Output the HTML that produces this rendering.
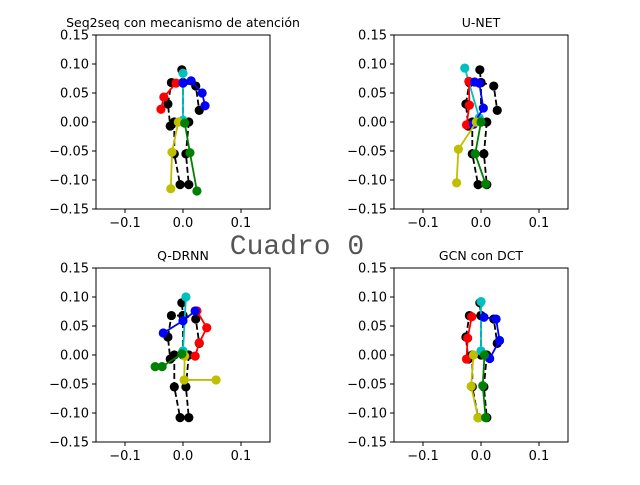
<!DOCTYPE html>
<html><head><meta charset="utf-8"><style>
body{margin:0;background:#fff;}
svg text{font-family:"DejaVu Sans","Liberation Sans",sans-serif;}
</style></head><body>
<svg id="fig" width="640" height="480" xmlns="http://www.w3.org/2000/svg">
<rect width="640" height="480" fill="#fff"/>
<text x="297" y="254" text-anchor="middle" style="font-family:'Liberation Mono',monospace;font-size:28px" fill="#555">Cuadro 0</text>
</svg>
<script>
const ticks=[-0.1,0.0,0.1];
const yticks=[0.15,0.10,0.05,0.00,-0.05,-0.10,-0.15];
const titles=["Seq2seq con mecanismo de atención","U-NET","Q-DRNN","GCN con DCT"];
// ground-truth skeleton chains (x,y)
const gtSpine=[[0,0],[0,0.068],[-0.002,0.09]];
const gtArmL=[[0,0.068],[-0.02,0.068],[-0.026,0.031],[-0.022,-0.007]];
const gtArmR=[[0,0.068],[0.022,0.062],[0.028,0.02]];
const gtLegL=[[-0.015,0],[-0.015,-0.055],[-0.005,-0.108]];
const gtLegR=[[0.01,0],[0.005,-0.055],[0.01,-0.108]];
// predictions per model
const p1Cyan=[[0,0.084],[0,0.003]];
const p1Red=[[-0.012,0.067],[-0.033,0.043],[-0.038,0.022]];
const p1Blue=[[0,0.067],[0.014,0.071],[0.033,0.05],[0.038,0.028]];
const p1Yellow=[[-0.008,0],[-0.019,-0.052],[-0.021,-0.115]];
const p1Green=[[0.003,-0.002],[0.012,-0.053],[0.024,-0.119]];
const p2Cyan=[[-0.028,0.093],[-0.003,0.007]];
const p2Red=[[-0.021,0.07],[-0.02,0.029],[-0.025,-0.005]];
const p2Blue=[[-0.011,0.069],[-0.003,0.067],[0.004,0.024],[-0.013,-0.004]];
const p2Yellow=[[-0.008,0],[-0.039,-0.047],[-0.042,-0.105]];
const p2Green=[[0,0],[-0.01,-0.055],[0.008,-0.107]];
const p3Cyan=[[0.005,0.1],[0,0.007]];
const p3Red=[[0.024,0.076],[0.041,0.047],[0.028,0.021],[0.021,-0.002]];
const p3Blue=[[0.021,0.076],[0,0.059],[-0.034,0.038]];
const p3Yellow=[[0.003,-0.002],[0.002,-0.043],[0.057,-0.043]];
const p3Green=[[-0.002,0.002],[-0.036,-0.02],[-0.048,-0.02]];
const p4Cyan=[[0,0.092],[0,0.007]];
const p4Red=[[-0.016,0.066],[-0.023,0.029],[-0.025,-0.007]];
const p4Blue=[[0.005,0.065],[0.026,0.062],[0.032,0.025],[0.015,-0.006]];
const p4Yellow=[[-0.013,0],[-0.017,-0.054],[-0.005,-0.108]];
const p4Green=[[0.006,0],[0.003,-0.053],[0.008,-0.108]];
const preds=[[p1Cyan,p1Red,p1Blue,p1Yellow,p1Green],[p2Cyan,p2Red,p2Blue,p2Yellow,p2Green],[p3Cyan,p3Red,p3Blue,p3Yellow,p3Green],[p4Cyan,p4Red,p4Blue,p4Yellow,p4Green]];
const colors=["#00bfbf","#ff0000","#0000ff","#bfbf00","#008000"];
const gts=[gtSpine,gtArmL,gtArmR,gtLegL,gtLegR];
const boxes=[[96,35],[394,35],[96,268],[394,268]];
const W=174,H=174;
const svg=document.getElementById('fig');
const NS="http://www.w3.org/2000/svg";
function mk(t,a,parent){const e=document.createElementNS(NS,t);for(const k in a)e.setAttribute(k,a[k]);(parent||svg).appendChild(e);return e;}
boxes.forEach((b,i)=>{
 const g=mk('g',{});
 
 
 const sx=v=>b[0]+(v+0.15)/0.3*W, sy=v=>b[1]+(0.15-v)/0.3*H;
 const t=mk('text',{x:b[0]+W/2,y:b[1]-8,'text-anchor':'middle','font-size':'12.5'},g);t.textContent=titles[i];
 
 
 ticks.forEach(v=>{mk('line',{x1:sx(v),x2:sx(v),y1:b[1]+H,y2:b[1]+H+4,stroke:'#000'},g);
  const tx=mk('text',{x:sx(v),y:b[1]+H+18,'text-anchor':'middle','font-size':'13'},g);tx.textContent=(v<0?'\u2212':'')+Math.abs(v).toFixed(1);
  
  });
 yticks.forEach(v=>{mk('line',{x1:b[0]-4,x2:b[0],y1:sy(v),y2:sy(v),stroke:'#000'},g);
  const ty=mk('text',{x:b[0]-7,y:sy(v)+4.5,'text-anchor':'end','font-size':'13'},g);ty.textContent=(v<0?'\u2212':'')+Math.abs(v).toFixed(2);
  
  });
 const pts=a=>a.map(p=>sx(p[0])+','+sy(p[1])).join(' ');
 gts.forEach(c=>{const l=mk('polyline',{points:pts(c),fill:'none',stroke:'#000','stroke-width':1.8,'stroke-dasharray':'6,3'},g);
  
  
  c.forEach(p=>mk('circle',{cx:sx(p[0]),cy:sy(p[1]),r:4.6,fill:'#000'},g));});
 preds[i].forEach((c,k)=>{const l=mk('polyline',{points:pts(c),fill:'none',stroke:colors[k],'stroke-width':1.8},g);
  
  
  c.forEach(p=>mk('circle',{cx:sx(p[0]),cy:sy(p[1]),r:4.6,fill:colors[k]},g));});
 mk('rect',{x:b[0],y:b[1],width:W,height:H,fill:'none',stroke:'#000','stroke-width':1},g);
});
</script>
</body></html>
